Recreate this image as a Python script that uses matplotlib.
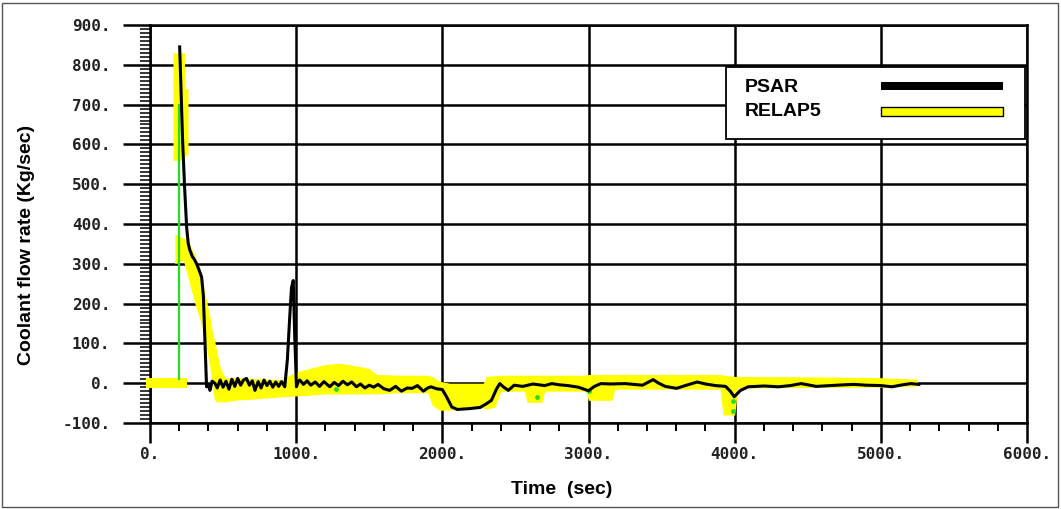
import numpy as np
import matplotlib
matplotlib.use("Agg")
import matplotlib.pyplot as plt
from matplotlib.patches import Rectangle
from matplotlib.ticker import MultipleLocator

# PSAR (black line)
psar_t = [203, 210, 223, 237, 251, 262, 273, 290, 305, 319,
          335, 353, 365, 376, 387, 400, 410, 425, 444, 460,
          480, 500, 520, 540, 560, 580, 600, 620, 640, 660,
          680, 700, 718, 740, 760, 780, 800, 820, 840, 860,
          880, 900, 922, 940, 955, 968, 980, 990, 1002, 1015,
          1025, 1050, 1075, 1100, 1130, 1160, 1190, 1230, 1260, 1290,
          1320, 1350, 1380, 1412, 1440, 1470, 1500, 1530, 1560, 1600,
          1640, 1680, 1720, 1760, 1793, 1830, 1870, 1900, 1922, 1960,
          2000, 2030, 2065, 2103, 2180, 2258, 2300, 2336, 2370, 2393,
          2420, 2452, 2491, 2550, 2620, 2700, 2749, 2800, 2860, 2930,
          3000, 3040, 3085, 3150, 3250, 3370, 3442, 3480, 3525, 3602,
          3670, 3744, 3800, 3870, 3938, 3970, 3997, 4040, 4093, 4200,
          4300, 4380, 4455, 4500, 4558, 4650, 4750, 4817, 4900, 5000,
          5075, 5150, 5204, 5260]
psar_flow = [845, 760, 610, 490, 390, 350, 334, 318, 310, 300,
             285, 267, 220, 108, -9, -5, -18, 5, 0, -12,
             8, -10, 5, -15, 10, -8, 12, -5, 8, 12,
             -5, 6, -18, 4, -12, 8, -6, 5, -10, 3,
             -8, 4, -9, 60, 160, 240, 258, 120, -9, 5,
             8, -3, 6, -5, 3, -8, 4, -9, 2, -6,
             5, -4, 3, -9, -2, -12, -5, -10, -3, -14,
             -18, -8, -20, -12, -13, -6, -20, -12, -9, -14,
             -16, -35, -60, -66, -64, -61, -52, -43, -15, -1,
             -10, -18, -5, -8, -2, -6, -1, -4, -6, -10,
             -19, -8, -1, -2, -1, -5, 9, 0, -8, -13,
             -5, 3, -2, -6, -8, -20, -34, -18, -9, -7,
             -9, -6, -1, -4, -8, -6, -4, -3, -5, -6,
             -9, -4, -1, -3]

# RELAP5 (yellow band: oscillating result, upper/lower envelope)
relap_t = [170, 228, 260, 307, 342, 376, 410, 421, 440, 456,
           480, 513, 600, 700, 800, 900, 1000, 1100, 1200, 1300,
           1400, 1500, 1550, 1700, 1900, 1930, 1980, 2050, 2150, 2280,
           2300, 2360, 2400, 2560, 2580, 2680, 2700, 2980, 3000, 3160,
           3180, 3900, 3920, 4000, 4020, 4500, 5000, 5250]
relap_hi = [375, 365, 359, 320, 276, 225, 167, 140, 110, 83,
            40, 14, 14, 12, 10, 10, 28, 38, 47, 50,
            44, 37, 22, 20, 20, 17, 5, 0, 0, 0,
            17, 19, 20, 20, 20, 20, 20, 20, 22, 22,
            22, 22, 20, 17, 17, 16, 14, 10]
relap_lo = [300, 309, 265, 200, 160, 108, 40, 0, -40, -47,
            -47, -47, -42, -40, -37, -34, -32, -30, -27, -27,
            -27, -27, -27, -24, -24, -55, -68, -68, -62, -62,
            -65, -60, -20, -20, -48, -48, -20, -20, -43, -43,
            -15, -15, -80, -80, -12, -11, -10, -7]
# steady state before the transient
relap0_t = [-30, 255]
relap0_hi = [13, 13]
relap0_lo = [-13, -13]
# peak part
relap_pk_t = [157, 235, 238, 260]
relap_pk_hi = [830, 830, 740, 740]
relap_pk_lo = [560, 560, 570, 575]

# green trace
green_t = [198, 198]
green_flow = [10, 700]
green_dot_t = [1270, 2650, 3000, 3990, 3990]
green_dot_flow = [-15, -35, -20, -45, -70]

x_ticks = [0, 1000, 2000, 3000, 4000, 5000, 6000]
x_labels = ["0.", "1000.", "2000.", "3000.", "4000.", "5000.", "6000."]
y_ticks = [-100, 0, 100, 200, 300, 400, 500, 600, 700, 800, 900]
y_labels = ["-100.", "0.", "100.", "200.", "300.", "400.", "500.",
            "600.", "700.", "800.", "900."]
series_names = ["PSAR", "RELAP5"]

YEL = "#ffff00"

fig = plt.figure(figsize=(10.61, 5.09), dpi=100)
ax = fig.add_axes([150 / 1061, 1 - 423 / 509, 877 / 1061, 398 / 509])

ax.fill_between(relap0_t, relap0_lo, relap0_hi, color=YEL, lw=0, zorder=2, clip_on=False)
ax.fill_between(relap_pk_t, relap_pk_lo, relap_pk_hi, color=YEL, lw=0, zorder=2)
ax.fill_between(relap_t, relap_lo, relap_hi, color=YEL, lw=0, zorder=2)
ax.plot(green_t, green_flow, color="#22dd22", lw=1.6, zorder=3)
ax.scatter(green_dot_t, green_dot_flow, color="#22dd22", s=6, zorder=3)
ax.plot(psar_t, psar_flow, color="black", lw=2.2, zorder=4)

ax.set_xlim(0, 6000)
ax.set_ylim(-100, 900)
ax.set_xticks(x_ticks)
ax.set_xticklabels(x_labels)
ax.set_yticks(y_ticks)
ax.set_yticklabels(y_labels)
ax.xaxis.set_minor_locator(MultipleLocator(200))
ax.yaxis.set_minor_locator(MultipleLocator(10))

ax.set_axisbelow(True)
ax.grid(True, which="major", color="black", lw=1.8, zorder=0.5)
for s in ax.spines.values():
    s.set_linewidth(1.8)
    s.set_zorder(1)

ax.tick_params(axis="y", which="major", direction="out", length=19.5, width=1.8, pad=9)
ax.tick_params(axis="x", which="major", direction="out", length=14.5, width=1.8, pad=3)
ax.tick_params(axis="y", which="minor", direction="out", length=7, width=1.1)
ax.tick_params(axis="x", which="minor", direction="out", length=5.5, width=1.4)
for lab in ax.get_xticklabels() + ax.get_yticklabels():
    lab.set_fontfamily("DejaVu Sans Mono")
    lab.set_fontweight("bold")
    lab.set_fontsize(11.5)
    lab.set_color("#222222")

fig.text(27 / 1061, 1 - 245 / 509, "Coolant flow rate (Kg/sec)", rotation=90,
         ha="center", va="center", fontsize=14, fontweight="bold",
         family="Liberation Sans")
fig.text(562 / 1061, 1 - 489 / 509, "Time  (sec)", ha="center", va="center",
         fontsize=14, fontweight="bold", family="Liberation Sans")

# legend box drawn by hand (text left, sample on the right)
def px(x, y):
    return (x - 150) / 877, (423 - y) / 398

x0, y0 = px(726, 139)
x1, y1 = px(1025, 67)
ax.add_patch(Rectangle((x0, y0), x1 - x0, y1 - y0, transform=ax.transAxes,
                       facecolor="white", edgecolor="black", lw=1.3, zorder=10))
for i, name in enumerate(series_names):
    tx, ty = px(745, 87 + 24 * i)
    ax.text(tx, ty, name, transform=ax.transAxes, ha="left", va="center",
            fontsize=14, fontweight="bold", family="Liberation Sans", zorder=11)
sx0, sy0 = px(881, 90)
sx1, sy1 = px(1003, 82)
ax.add_patch(Rectangle((sx0, sy0), sx1 - sx0, sy1 - sy0, transform=ax.transAxes,
                       facecolor="black", edgecolor="black", lw=0, zorder=11))
sx0, sy0 = px(881, 116)
sx1, sy1 = px(1003, 107)
ax.add_patch(Rectangle((sx0, sy0), sx1 - sx0, sy1 - sy0, transform=ax.transAxes,
                       facecolor=YEL, edgecolor="black", lw=1.0, zorder=11))

fig.patches.append(Rectangle((2 / 1061, 2 / 509), 1056 / 1061, 504 / 509,
                             transform=fig.transFigure, fill=False,
                             edgecolor="#555555", lw=1))

fig.savefig("out.png", dpi=100)
